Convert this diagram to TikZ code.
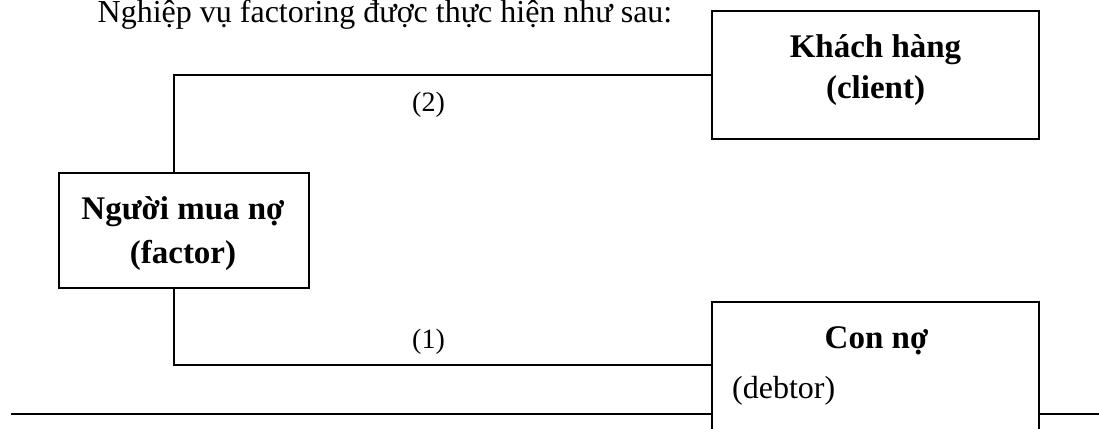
\documentclass[tikz,border=0pt]{standalone}
\usepackage{fontspec}
\setmainfont{Liberation Serif}
\usetikzlibrary{positioning}
\tikzset{
  box/.style={draw, line width=1.2pt, inner sep=0pt},
  link/.style={line width=1.2pt},
  txt/.style={font=\fontsize{32}{41}\selectfont, align=center, inner sep=0pt, anchor=base},
  head/.style={txt, font=\fontsize{33}{41}\selectfont\bfseries},
  num/.style={txt, font=\fontsize{28}{30}\selectfont},
}

\begin{document}
\begin{tikzpicture}[x=1pt, y=-1pt]
  \clip (0, 0) rectangle (1099, 428);
  \node[txt] (title) at (385, 23) {Nghiệp vụ factoring được thực hiện như sau:};

  \node[box, minimum width=327pt, minimum height=128pt] (client) at (875.5, 75) {};
  \node[head] (clienttext) at (875.5, 98) {Khách hàng\\(client)};

  \node[box, minimum width=250pt, minimum height=115pt] (factor) at (184, 230.5) {};
  \node[head, font=\fontsize{33}{44}\selectfont\bfseries] (factortext) at (183, 263) {Người mua nợ\\(factor)};

  \node[box, minimum width=327pt, minimum height=160pt] (debtor) at (875.5, 382) {};
  \node[head] (debtorname) at (876.5, 348) {Con nợ};
  \node[txt, anchor=base west] (debtorsub) at (732, 398) {(debtor)};

  \draw[link] ([xshift=-10pt]factor.north) |- (client.west);
  \draw[link] ([xshift=-10pt]factor.south) |- ([yshift=17pt]debtor.west);
  \node[num] (two) at (428.5, 111) {(2)};
  \node[num] (one) at (428.5, 348) {(1)};

  % rule under the scheme
  \coordinate (ruleL) at (11, 414);
  \coordinate (ruleR) at (1099, 414);
  \draw[line width=1.8pt] (ruleL) -- (debtor.west |- ruleL);
  \draw[line width=1.8pt] (debtor.east |- ruleR) -- (ruleR);
\end{tikzpicture}
\end{document}
